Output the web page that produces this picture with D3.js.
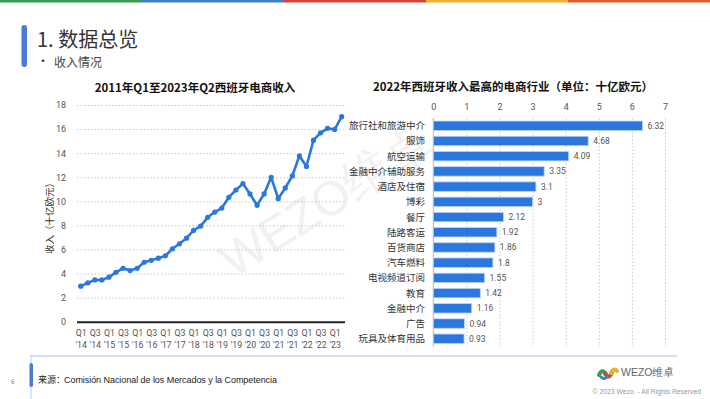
<!DOCTYPE html>
<html><head><meta charset="utf-8">
<script src="https://cdn.jsdelivr.net/npm/d3@7"></script>
<style>
html,body{margin:0;padding:0;background:#fff;}
svg{display:block;font-family:"Noto Sans CJK SC","Noto Sans",sans-serif;}
</style></head>
<body><svg id="c" width="710" height="399"></svg>
<script>
// ---- data ----
const quarters = ["Q1 '14","Q2 '14","Q3 '14","Q4 '14","Q1 '15","Q2 '15","Q3 '15","Q4 '15","Q1 '16","Q2 '16","Q3 '16","Q4 '16","Q1 '17","Q2 '17","Q3 '17","Q4 '17","Q1 '18","Q2 '18","Q3 '18","Q4 '18","Q1 '19","Q2 '19","Q3 '19","Q4 '19","Q1 '20","Q2 '20","Q3 '20","Q4 '20","Q1 '21","Q2 '21","Q3 '21","Q4 '21","Q1 '22","Q2 '22","Q3 '22","Q4 '22","Q1 '23","Q2 '23"];
const revenue = [2.95,3.22,3.47,3.47,3.7,4.1,4.44,4.25,4.44,4.94,5.1,5.28,5.47,6.06,6.47,6.94,7.58,7.94,8.67,9.11,9.44,10.33,10.94,11.47,10.61,9.67,10.61,12.0,10.22,11.11,12.11,13.78,12.89,15.08,15.69,16.06,15.97,17.03];
const yTicksLeft = [0,2,4,6,8,10,12,14,16,18];
const industries = ["旅行社和旅游中介","服饰","航空运输","金融中介辅助服务","酒店及住宿","博彩","餐厅","陆路客运","百货商店","汽车燃料","电视频道订阅","教育","金融中介","广告","玩具及体育用品"];
const industryValues = [6.32,4.68,4.09,3.35,3.1,3,2.12,1.92,1.86,1.8,1.55,1.42,1.16,0.94,0.93];
const xTicksRight = [0,1,2,3,4,5,6,7];
const topBarColors = ["#3d9a56","#3f7fc4","#d2453a","#ecb12f","#dd5f2e"];

const svg = d3.select("#c");
const blue = "#2b77de";

// top color strip
topBarColors.forEach((c,i)=>{
  svg.append("rect").attr("x",i*142).attr("y",0).attr("width",142).attr("height",2.5).attr("fill",c);
});

// watermark
svg.append("text").attr("transform","translate(335,215) rotate(-32)")
  .attr("text-anchor","middle").attr("font-size",48).attr("font-family","Liberation Sans, Arial, sans-serif")
  .attr("fill","#f1f1f1").text("WEZO维卓");

// header
svg.append("rect").attr("x",21.5).attr("y",25).attr("width",5.5).attr("height",42).attr("rx",2.7).attr("fill","#4a7bd6");
svg.append("text").attr("x",37).attr("y",47).attr("font-size",20).attr("fill","#333")
  .text("1. 数据总览");
svg.append("text").attr("x",37).attr("y",66).attr("font-size",12).attr("fill","#333").text("•");
svg.append("text").attr("x",54).attr("y",67).attr("font-size",12).attr("fill","#444").text("收入情况");

// ---------- left line chart ----------
const L = {x0:77, x1:345, y0:321.7, y1:105};
const xL = d3.scalePoint().domain(quarters).range([80.7,341.7]);
const yL = d3.scaleLinear().domain([0,18]).range([L.y0,L.y1]);

svg.append("text").attr("x",195).attr("y",92).attr("text-anchor","middle")
  .attr("font-size",11.5).attr("font-weight","bold").attr("fill","#111")
  .text("2011年Q1至2023年Q2西班牙电商收入");

const gy = svg.append("g").attr("transform",`translate(${L.x0},0)`)
  .call(d3.axisLeft(yL).tickValues(yTicksLeft).tickSize(-(L.x1-L.x0)).tickPadding(11));
gy.select(".domain").remove();
gy.selectAll(".tick line").attr("stroke","#c8c8c8").attr("stroke-dasharray","1.5,2")
  .filter(d=>d===0).attr("stroke","#222").attr("stroke-width",2).attr("stroke-dasharray",null);
gy.selectAll(".tick text").attr("font-size",9).attr("fill","#555").attr("font-family","Roboto, sans-serif");

svg.append("text").attr("transform","translate(53,216) rotate(-90)").attr("text-anchor","middle")
  .attr("font-size",9.5).attr("fill","#333").text("收入（十亿欧元）");

const gx = svg.append("g").attr("transform",`translate(0,${L.y0})`)
  .call(d3.axisBottom(xL).tickValues(quarters.filter((d,i)=>i%2===0)).tickSize(0).tickPadding(0));
gx.select(".domain").remove();
gx.selectAll(".tick").each(function(d){
  const parts = d.split(" ");
  const g = d3.select(this);
  g.select("text").remove();
  parts.forEach((p,k)=>{
    g.append("text").attr("x",0).attr("y",14.5+k*11.5).attr("text-anchor","middle")
      .attr("font-size",8.8).attr("fill","#555").attr("font-family","Roboto, sans-serif").text(p);
  });
});

svg.append("path").datum(revenue)
  .attr("d",d3.line().x((d,i)=>xL(quarters[i])).y(d=>yL(d)))
  .attr("fill","none").attr("stroke",blue).attr("stroke-width",2.6).attr("stroke-linejoin","round");
svg.append("g").selectAll("circle").data(revenue).join("circle")
  .attr("cx",(d,i)=>xL(quarters[i])).attr("cy",d=>yL(d)).attr("r",2.6).attr("fill",blue);

// ---------- right bar chart ----------
const xR = d3.scaleLinear().domain([0,7]).range([433.3,665]);
const yR = d3.scaleBand().domain(industries).range([118,346.5]).paddingInner(0.38).paddingOuter(0.2);

svg.append("text").attr("x",513).attr("y",91).attr("text-anchor","middle")
  .attr("font-size",11.5).attr("font-weight","bold").attr("fill","#111")
  .text("2022年西班牙收入最高的电商行业（单位：十亿欧元）");

const gxr = svg.append("g").attr("transform","translate(0,118)")
  .call(d3.axisTop(xR).tickValues(xTicksRight).tickFormat(d3.format("d")).tickSize(-(346.5-118)).tickPadding(8));
gxr.select(".domain").remove();
gxr.selectAll(".tick line").attr("stroke","#c8c8c8").attr("stroke-dasharray","1.5,2");
gxr.selectAll(".tick text").attr("font-size",9).attr("fill","#555").attr("font-family","Roboto, sans-serif");

svg.append("g").selectAll("rect").data(industryValues).join("rect")
  .attr("x",xR(0)).attr("y",(d,i)=>yR(industries[i]))
  .attr("width",d=>xR(d)-xR(0)).attr("height",yR.bandwidth())
  .attr("fill",blue).attr("stroke","#bcd3f5").attr("stroke-width",0.8);

svg.append("line").attr("x1",xR(0)).attr("x2",xR(0)).attr("y1",118).attr("y2",346.5)
  .attr("stroke","#bbb").attr("stroke-width",1);

svg.append("g").selectAll("text").data(industryValues).join("text")
  .attr("x",d=>xR(d)+5).attr("y",(d,i)=>yR(industries[i])+yR.bandwidth()/2+3)
  .attr("font-size",8.5).attr("fill","#555").attr("font-family","Roboto, sans-serif").text(d=>d);

svg.append("g").selectAll("text").data(industries).join("text")
  .attr("x",425).attr("y",d=>yR(d)+yR.bandwidth()/2+3.5).attr("text-anchor","end")
  .attr("font-size",9.5).attr("fill","#333").text(d=>d);

// ---------- footer ----------
svg.append("line").attr("x1",30).attr("x2",677).attr("y1",356).attr("y2",356).attr("stroke","#a9c1f0").attr("stroke-width",1.2);
svg.append("line").attr("x1",31).attr("x2",31).attr("y1",356).attr("y2",399).attr("stroke","#b8cdf3").attr("stroke-width",1);
svg.append("rect").attr("x",29.5).attr("y",363).attr("width",3.5).attr("height",24).attr("rx",1.7).attr("fill","#4a7bd6");
svg.append("text").attr("x",11).attr("y",384).attr("font-size",6.5).attr("fill","#888").text("6");
svg.append("text").attr("x",38).attr("y",383).attr("font-size",9).attr("fill","#222").text("来源：");
svg.append("text").attr("x",64).attr("y",383).attr("font-size",9).attr("fill","#222")
  .attr("font-family","Liberation Sans, Arial, sans-serif").attr("textLength",213).text("Comisión Nacional de los Mercados y la Competencia");

// logo
const lg = svg.append("g").attr("transform","translate(598,366)");
lg.append("path").attr("d","M1,9 Q4,2 8,8").attr("stroke","#3d9a56").attr("stroke-width",4).attr("fill","none").attr("stroke-linecap","round");
lg.append("path").attr("d","M7,8 Q11,14 14,6").attr("stroke","#d2453a").attr("stroke-width",4).attr("fill","none").attr("stroke-linecap","round");
lg.append("path").attr("d","M13,7 Q16,1 19,5").attr("stroke","#ecb12f").attr("stroke-width",4).attr("fill","none").attr("stroke-linecap","round");
lg.append("path").attr("d","M3,11 Q6,14 9,11").attr("stroke","#3f7fc4").attr("stroke-width",3).attr("fill","none").attr("stroke-linecap","round");
svg.append("text").attr("x",621).attr("y",376).attr("font-size",10.5).attr("fill","#666")
  .attr("font-family","Liberation Sans, Arial, sans-serif").text("WEZO维卓");
svg.append("text").attr("x",701).attr("y",394).attr("text-anchor","end").attr("font-size",6.8).attr("fill","#999")
  .attr("font-family","Liberation Sans, Arial, sans-serif").text("© 2023 Wezo. - All Rights Reserved");
</script></body></html>
